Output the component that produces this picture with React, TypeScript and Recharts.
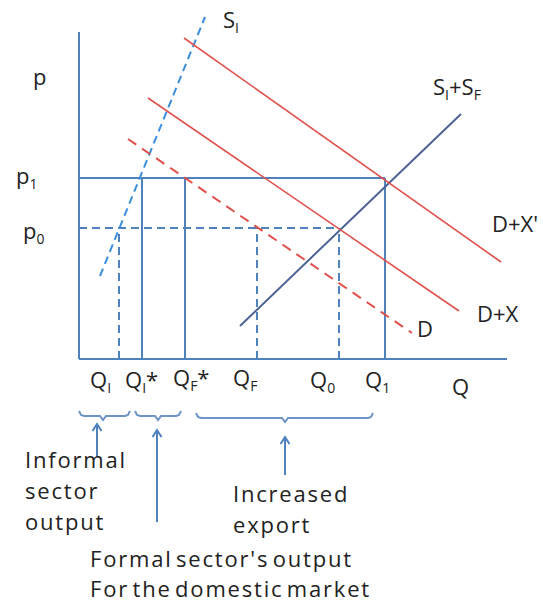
import React from "react";
import {
  ComposedChart,
  Line,
  XAxis,
  YAxis,
  ReferenceLine,
  ReferenceDot,
} from "recharts";

// quantities and prices on the axes
const quantities = { QI: 4.0, QIs: 6.3, QFs: 10.6, QF: 17.8, Q0: 26.0, Q1: 30.6 };
const prices = { p0: 13.1, p1: 18.1 };
const axisEnds = { x: 42.8, y: 32.7 };

// supply and demand curves (endpoints)
const supplyInformal = [
  { x: 2.1, y: 8.3 },
  { x: 12.6, y: 34.2 },
];
const supplyTotal = [
  { x: 16.1, y: 3.3 },
  { x: 38.2, y: 24.5 },
];
const demand = [
  { x: 4.9, y: 22.0 },
  { x: 33.3, y: 2.6 },
];
const demandExport = [
  { x: 6.9, y: 26.1 },
  { x: 38.0, y: 4.8 },
];
const demandExport2 = [
  { x: 10.5, y: 32.1 },
  { x: 42.2, y: 9.7 },
];

// brace spans under the quantity axis
const braces = [
  { from: 0, to: 5.1, mid: 2.4, level: -5.7 },
  { from: 5.6, to: 10.2, mid: 7.9, level: -5.7 },
  { from: 11.7, to: 29.4, mid: 20.6, level: -5.9 },
];
// arrows pointing up at the braces
const arrows = [
  { x: 1.8, from: -9.8, to: -6.5 },
  { x: 7.8, from: -16.3, to: -7.1 },
  { x: 20.6, from: -11.6, to: -7.8 },
];

const BLUE = "#4f81bd";
const LIGHT_BLUE = "#3b8ede";
const NAVY = "#4d6396";
const RED = "#e0504c";
const INK = "#222";
const FONT = "'Open Sans', sans-serif";

const braceShape = (b: { from: number; to: number; mid: number; level: number }) => [
  { x: b.from, y: b.level + 0.5 },
  { x: b.from + 0.2, y: b.level + 0.1 },
  { x: b.from + 0.5, y: b.level },
  { x: b.mid - 0.3, y: b.level },
  { x: b.mid, y: b.level - 0.4 },
  { x: b.mid + 0.3, y: b.level },
  { x: b.to - 0.5, y: b.level },
  { x: b.to - 0.2, y: b.level + 0.1 },
  { x: b.to, y: b.level + 0.5 },
];

const sub = (s: string) => (
  <tspan fontSize={14} dy={5}>
    {s}
  </tspan>
);

const note = (
  key: string,
  x: number,
  y: number,
  content: React.ReactNode,
  spacing = 0
) => (
  <ReferenceDot
    key={key}
    x={x}
    y={y}
    r={0}
    ifOverflow="visible"
    shape={(p: any) => (
      <text
        x={p.cx}
        y={p.cy}
        fill={INK}
        fontFamily={FONT}
        fontSize={22}
        fontWeight={500}
        letterSpacing={spacing}
        wordSpacing={spacing ? -4 : 0}
      >
        {content}
      </text>
    )}
  />
);

const seg = (key: string, x1: number, y1: number, x2: number, y2: number, dashed = false) => (
  <ReferenceLine
    key={key}
    segment={[
      { x: x1, y: y1 },
      { x: x2, y: y2 },
    ]}
    stroke={BLUE}
    strokeWidth={2}
    strokeDasharray={dashed ? "8 5" : undefined}
    ifOverflow="visible"
  />
);

export default function App() {
  const { QI, QIs, QFs, QF, Q0, Q1 } = quantities;
  const { p0, p1 } = prices;
  return (
    <div style={{ position: "absolute", left: 0, top: 0, background: "#fff" }}>
      <ComposedChart
        width={543}
        height={606}
        margin={{ top: 9, right: 4, bottom: 7, left: 9 }}
      >
        <XAxis dataKey="x" type="number" domain={[-7, 46]} allowDataOverflow hide />
        <YAxis dataKey="y" type="number" domain={[-24, 35]} allowDataOverflow hide />

        {/* axes */}
        {seg("ax-y", 0, 0, 0, axisEnds.y)}
        {seg("ax-x", 0, 0, axisEnds.x, 0)}

        {/* price guides */}
        {seg("p1", 0, p1, Q1, p1)}
        {seg("p0", 0, p0, Q0, p0, true)}

        {/* quantity guides */}
        {seg("qi", QI, 0, QI, p0, true)}
        {seg("qis", QIs, 0, QIs, p1)}
        {seg("qfs", QFs, 0, QFs, p1)}
        {seg("qf", QF, 0, QF, p0, true)}
        {seg("q0", Q0, 0, Q0, p0, true)}
        {seg("q1", Q1, 0, Q1, p1)}

        <Line data={supplyInformal} dataKey="y" stroke={LIGHT_BLUE} strokeWidth={2} strokeDasharray="8 5" dot={false} activeDot={false} isAnimationActive={false} />
        <Line data={supplyTotal} dataKey="y" stroke={NAVY} strokeWidth={2} dot={false} activeDot={false} isAnimationActive={false} />
        <Line data={demand} dataKey="y" stroke={RED} strokeWidth={2} strokeDasharray="10 7" dot={false} activeDot={false} isAnimationActive={false} />
        <Line data={demandExport} dataKey="y" stroke={RED} strokeWidth={1.6} dot={false} activeDot={false} isAnimationActive={false} />
        <Line data={demandExport2} dataKey="y" stroke={RED} strokeWidth={1.6} dot={false} activeDot={false} isAnimationActive={false} />

        {braces.map((b, i) => (
          <Line key={`brace-${i}`} data={braceShape(b)} dataKey="y" stroke="#6f95c8" strokeWidth={2} dot={false} activeDot={false} isAnimationActive={false} />
        ))}
        {arrows.map((a, i) => (
          <Line
            key={`arrow-${i}`}
            data={[
              { x: a.x, y: a.from },
              { x: a.x, y: a.to },
            ]}
            dataKey="y"
            stroke={BLUE}
            strokeWidth={2}
            dot={false}
            activeDot={false}
            isAnimationActive={false}
          />
        ))}
        {arrows.map((a, i) => (
          <Line
            key={`head-${i}`}
            data={[
              { x: a.x - 0.45, y: a.to - 0.7 },
              { x: a.x, y: a.to },
              { x: a.x + 0.45, y: a.to - 0.7 },
            ]}
            dataKey="y"
            stroke={BLUE}
            strokeWidth={2}
            dot={false}
            activeDot={false}
            isAnimationActive={false}
          />
        ))}

        {/* axis labels */}
        {note("p", -4.6, 27.4, "p")}
        {note("p1", -6.3, 17.5, <>p{sub("1")}</>)}
        {note("p0", -5.6, 12.0, <>p{sub("0")}</>)}
        {note("lqi", 1.1, -2.9, <>Q{sub("I")}</>)}
        {note("lqis", 4.6, -2.9, <>Q{sub("I")}<tspan dy={-5}>*</tspan></>)}
        {note("lqfs", 9.4, -2.7, <>Q{sub("F")}<tspan dy={-5}>*</tspan></>)}
        {note("lqf", 15.4, -2.7, <>Q{sub("F")}</>)}
        {note("lq0", 23.1, -2.9, <>Q{sub("0")}</>)}
        {note("lq1", 28.6, -2.9, <>Q{sub("1")}</>)}
        {note("lq", 37.3, -3.6, "Q")}

        {/* curve labels */}
        {note("si", 14.4, 33.1, <>S{sub("I")}</>)}
        {note("sisf", 35.4, 26.4, <>S{sub("I")}<tspan dy={-5}>+S</tspan>{sub("F")}</>)}
        {note("dx2", 41.3, 12.7, "D+X'")}
        {note("dx", 39.8, 3.7, "D+X")}
        {note("d", 33.8, 2.2, "D")}

        {/* notes under the braces */}
        {note("inf1", -5.4, -10.9, "Informal", 1.8)}
        {note("inf2", -5.4, -14.0, "sector", 1.8)}
        {note("inf3", -5.4, -17.1, "output", 1.8)}
        {note("exp1", 15.4, -14.3, "Increased", 1.8)}
        {note("exp2", 15.4, -17.4, "export", 1.8)}
        {note("form1", 1.1, -20.8, "Formal sector's output", 1.8)}
        {note("form2", 1.1, -23.8, "For the domestic market", 1.8)}
      </ComposedChart>
    </div>
  );
}
